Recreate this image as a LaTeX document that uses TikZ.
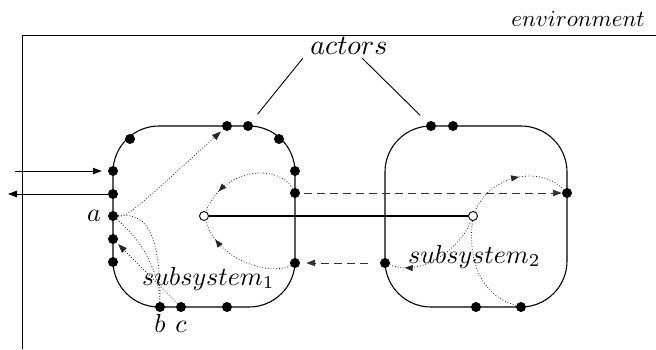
\documentclass[tikz,border=0pt]{standalone}
\usetikzlibrary{arrows.meta,decorations.markings,calc}
\newcommand{\lbtxt}[2][2.6]{\scalebox{#1}{$#2$}}
\begin{document}
\begin{tikzpicture}[x=1pt,y=-1pt,
  port/.style={circle,fill=black,inner sep=0pt,minimum size=10pt},
  inport/.style={circle,draw,line width=0.9pt,fill=white,inner sep=0pt,minimum size=9pt},
  sysbox/.style={line width=1.1pt,rounded corners=46pt},
  flowline/.style={line width=0.8pt,dash pattern=on 0.8pt off 2pt,black!85},
  dashline/.style={line width=0.9pt,dash pattern=on 8pt off 5pt,black!80},
  tip/.style={-{Triangle[length=9pt,width=6.5pt]}},
  midarrow/.style={postaction={decorate},decoration={markings,
     mark=at position #1 with {\arrow{Triangle[length=8pt,width=6pt]}}}},
  lbl/.style={inner sep=0pt,anchor=base west}
]
\useasboundingbox (0,0) rectangle (656,349);
% environment
\draw[line width=0.8pt] (656,35) -| (22,349);
\node[inner sep=0pt,anchor=base east] (env) at (645,26) {\lbtxt[2.3]{environment}};
\node[inner sep=0pt,anchor=base] (actors) at (349,54) {\lbtxt[2.8]{actors}};
% subsystem boxes
\draw[sysbox] (113,126) rectangle (295,307);
\draw[sysbox] (385,126) rectangle (567,307);
% ports subsystem 1
\node[port] (p1t1) at (227,126) {};
\node[port] (p1t2) at (248,126) {};
\node[port] (p1tl) at (130,139) {};
\node[port] (p1tr) at (279,139) {};
\node[port] (p1l1) at (113,171) {};
\node[port] (p1l2) at (113,194) {};
\node[port] (a) at (113,216) {};
\node[port] (p1l4) at (113,239) {};
\node[port] (p1l5) at (113,262) {};
\node[port] (b) at (160,307) {};
\node[port] (c) at (181,307) {};
\node[port] (p1b3) at (227,307) {};
\node[port] (p1r1) at (295,171) {};
\node[port] (p1r2) at (295,193) {};
\node[port] (p1r3) at (295,263) {};
% ports subsystem 2
\node[port] (p2t1) at (431,126) {};
\node[port] (p2t2) at (453,126) {};
\node[port] (p2r) at (567,193) {};
\node[port] (p2l) at (385,263) {};
\node[port] (p2b1) at (476,307) {};
\node[port] (p2b2) at (521,307) {};
% inner connection
\node[inport] (c1) at (204,216) {};
\node[inport] (c2) at (473,216) {};
\draw[line width=1.8pt] (c1) -- (c2);
% labels
\node[lbl] (s1) at (142,285) {\lbtxt{subsystem_1}};
\node[lbl] (s2) at (408,263) {\lbtxt{subsystem_2}};
\node[inner sep=0pt,anchor=base east] (la) at (101,221) {\lbtxt{a}};
\node[inner sep=0pt,anchor=base] (lb) at (160,332) {\lbtxt{b}};
\node[inner sep=0pt,anchor=base] (lc) at (181,332) {\lbtxt{c}};
% actor lines
\coordinate (al) at (303,58);
\coordinate (ar) at (362,58);
\draw[line width=0.9pt,shorten >=10pt] (al) -- (p1t2);
\draw[line width=0.9pt,shorten >=10pt] (ar) -- (p2t1);
% external arrows
\coordinate (inL) at (15,171);
\coordinate (outL) at (8,194);
\draw[line width=0.8pt,tip,shorten >=6pt] (inL) -- (p1l1);
\draw[line width=0.8pt,tip] (p1l2) -- (outL);
% dashed links
\draw[dashline,tip,shorten <=4pt] (p1r2) -- (p2r);
\draw[dashline,tip,shorten <=12pt,shorten >=6pt] (p2l) -- (p1r3);
% dotted flows subsystem 1
\draw[flowline,tip,shorten >=3pt] (a) .. controls (128,217) and (140,205) .. (p1t1);
\draw[flowline,midarrow=0.78] (p1r2) .. controls (280,165) and (225,165) .. (c1);
\draw[flowline,midarrow=0.8] (p1r3) .. controls (275,275) and (220,265) .. (c1);
\draw[flowline] (a) .. controls (150,212) and (160,240) .. (b);
\draw[flowline] (a) .. controls (135,235) and (158,262) .. (b);
\draw[flowline,tip,shorten >=2pt] (c) -- (p1l4);
% dotted flows subsystem 2
\draw[flowline,midarrow=0.55] (c2) .. controls (490,175) and (540,165) .. (p2r);
\draw[flowline,midarrow=0.85] (c2) .. controls (462,245) and (425,278) .. (p2l);
\draw[flowline] (c2) .. controls (468,260) and (480,295) .. (p2b2);
\end{tikzpicture}
\end{document}
